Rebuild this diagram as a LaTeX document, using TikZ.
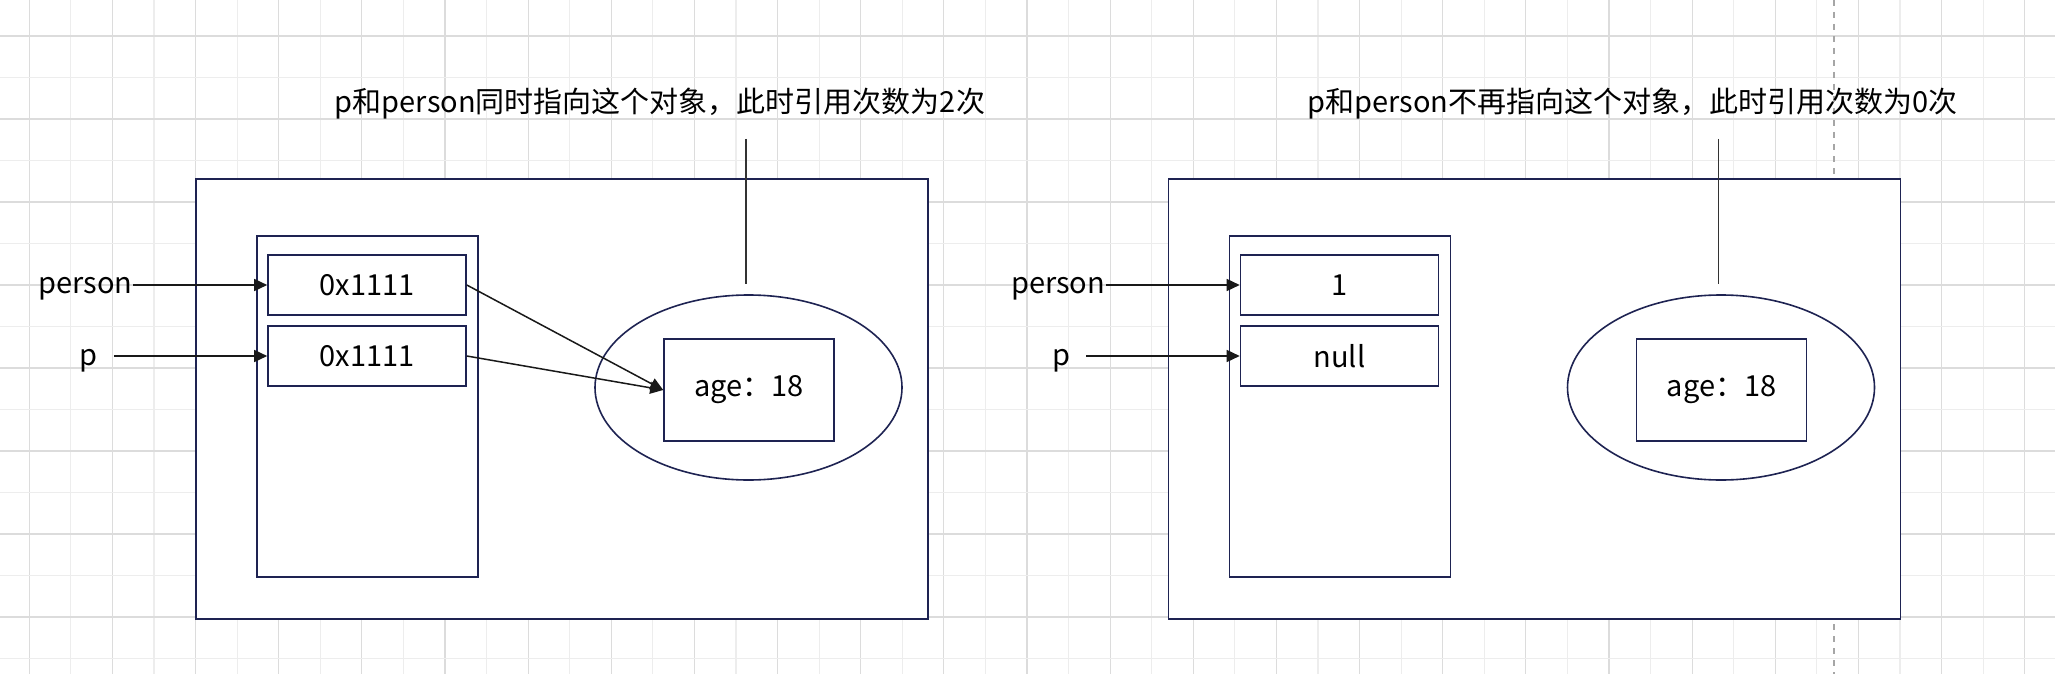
\documentclass[tikz,border=0pt]{standalone}
\usepackage{fontspec}
\setmainfont{Noto Sans CJK SC}
\usepackage{xcolor}
\usetikzlibrary{positioning, arrows.meta, shapes.geometric}
\definecolor{boxline}{HTML}{1E2352}
\definecolor{gridA}{HTML}{DCDCDC}
\definecolor{gridB}{HTML}{EDEDED}
\tikzset{
	box/.style={draw=boxline, line width=0.8pt, fill=white, inner sep=0pt},
	lbl/.style={font=\fontsize{14.5}{17}\selectfont, inner sep=0pt},
	ref/.style={-{Triangle[length=6.5pt,width=6pt]}, line width=0.75pt, black!90},
	pin/.style={line width=0.8pt, black!80}
}

\begin{document}
\begin{tikzpicture}[x=0.5pt, y=-0.5pt]
	\useasboundingbox (0,0) rectangle (2055,674);
	\fill [white] (0,0) rectangle (2055,674);
	%% grid
	\foreach \x in {29.3,112.44,...,2055} {
		\draw [gridA, line width=0.6pt] (\x,0) -- (\x,674);
	}
	\foreach \x in {70.87,154.01,...,2055} {
		\draw [gridB, line width=0.6pt] (\x,0) -- (\x,674);
	}
	\foreach \y in {36,119,...,674} {
		\draw [gridA, line width=0.6pt] (0,\y) -- (2055,\y);
	}
	\foreach \y in {77.5,160.5,...,674} {
		\draw [gridB, line width=0.6pt] (0,\y) -- (2055,\y);
	}
	\draw [gray!70, dashed, line width=0.6pt] (1834,0) -- (1834,674);
	
	%% before
	\node [box, minimum width=366pt, minimum height=220pt] (heapA) at (562,399) {};
	\coordinate (topA) at (746,139);
	\coordinate (tipA) at (746,284);
	\draw [pin] (topA) -- (tipA);
	\node [box, minimum width=110.5pt, minimum height=170.5pt] (stackA) at (367.5,406.5) {};
	\node [box, lbl, minimum width=99pt, minimum height=30pt] (refA1) at (367,285) {0x1111};
	\node [box, lbl, minimum width=99pt, minimum height=30pt] (refA2) at (367,356) {0x1111};
	\node [box, ellipse, minimum width=153.5pt, minimum height=92.5pt] (objA) at (748.5,387.5) {};
	\node [box, lbl, minimum width=85pt, minimum height=51pt] (ageA) at (749,390) {age：18};
	\node [lbl, anchor=east] (personA) at (133,289) {person};
	\node [lbl] (pA) at (88.5,361) {p};
	\draw [ref] (personA.east |- refA1.west) -- (refA1.west);
	\draw [ref] ([xshift=8pt]pA.east |- refA2.west) -- (refA2.west);
	\draw [ref] (refA1.east) -- (ageA.west);
	\draw [ref] (refA2.east) -- (ageA.west);
	\node [lbl] (noteA) at (660,104) {p和person同时指向这个对象，此时引用次数为2次};
	
	%% after
	\begin{scope}[xshift=486.25pt]
		\node [box, minimum width=366pt, minimum height=220pt] (heapB) at (562,399) {};
		\coordinate (topB) at (746,139);
		\coordinate (tipB) at (746,284);
		\draw [pin] (topB) -- (tipB);
		\node [box, minimum width=110.5pt, minimum height=170.5pt] (stackB) at (367.5,406.5) {};
		\node [box, lbl, minimum width=99pt, minimum height=30pt] (refB1) at (367,285) {1};
		\node [box, lbl, minimum width=99pt, minimum height=30pt] (refB2) at (367,356) {null};
		\node [box, ellipse, minimum width=153.5pt, minimum height=92.5pt] (objB) at (748.5,387.5) {};
		\node [box, lbl, minimum width=85pt, minimum height=51pt] (ageB) at (749,390) {age：18};
		\node [lbl, anchor=east] (personB) at (133,289) {person};
		\node [lbl] (pB) at (88.5,361) {p};
		\draw [ref] (personB.east |- refB1.west) -- (refB1.west);
		\draw [ref] ([xshift=8pt]pB.east |- refB2.west) -- (refB2.west);
		\node [lbl] (noteB) at (660,104) {p和person不再指向这个对象，此时引用次数为0次};
	\end{scope}
\end{tikzpicture}
\end{document}
